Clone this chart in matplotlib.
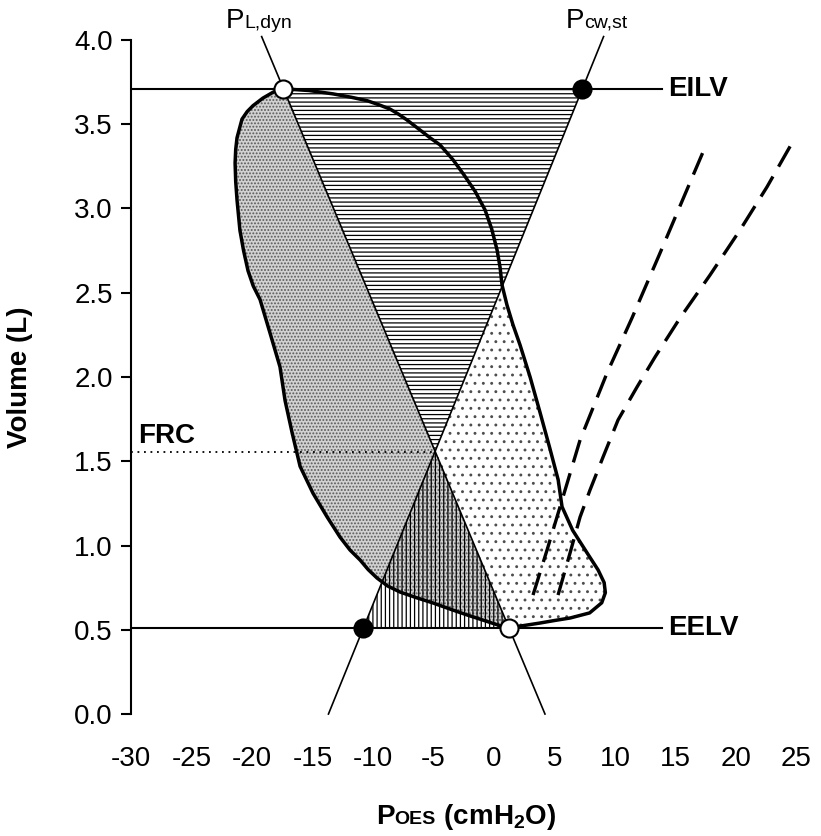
import numpy as np
import matplotlib
matplotlib.use("Agg")
import matplotlib.pyplot as plt
from matplotlib.patches import Polygon
from matplotlib.offsetbox import TextArea, HPacker, AnnotationBbox

plt.rcParams['font.family'] = ['Liberation Sans', 'DejaVu Sans']
plt.rcParams['axes.unicode_minus'] = False
plt.rcParams['mathtext.fontset'] = 'custom'
plt.rcParams['mathtext.rm'] = 'Liberation Sans'
plt.rcParams['mathtext.bf'] = 'Liberation Sans:bold'
plt.rcParams['hatch.linewidth'] = 0.9

# lung volumes (L)
eilv = 3.71
eelv = 0.51
frc = 1.555

# pressures at end-inspiration / end-expiration (cmH2O)
pl_dyn_top = -17.4
pcw_st_top = 7.3
pcw_st_bottom = -10.8
pl_dyn_bottom = 1.24

# pressure-volume loop: expiratory limb, then inspiratory limb
loop_p = [-17.4, -15.3, -13.3, -11.8, -10.5, -9.5, -8.6, -7.9, -7.19, -6.12, -5.3, -4.46,
          -3.4, -2.48, -1.55, -0.74, -0.2, 0.25, 0.5, 0.66, 1.07, 1.57, 2.15, 2.98,
          3.8, 4.6, 5.3, 5.62, 6.5, 7.7, 8.6, 9.1, 9.2, 8.9, 7.9, 6.3, 5.0, 3.8, 2.0,
          1.24, 0.33, -0.9, -2.23, -3.6, -5.04, -6.4, -7.77, -8.8, -9.67, -10.4, -11.07,
          -11.9, -12.73, -13.8, -14.96, -16.03, -16.69, -17.27, -17.69, -18.51, -19.34,
          -19.9, -20.33, -20.7, -21.0, -21.24, -21.35, -21.4, -21.35, -21.24, -20.83,
          -20.4, -19.92, -19.1, -18.26]
loop_v = [3.71, 3.70, 3.68, 3.66, 3.64, 3.615, 3.59, 3.56, 3.525, 3.466, 3.42, 3.377,
          3.29, 3.199, 3.10, 2.991, 2.88, 2.754, 2.65, 2.546, 2.427, 2.309, 2.19, 2.0,
          1.79, 1.58, 1.39, 1.23, 1.09, 0.955, 0.855, 0.78, 0.72, 0.66, 0.60, 0.57, 0.555, 0.54, 0.52,
          0.51, 0.528, 0.557, 0.588, 0.622, 0.659, 0.69, 0.724, 0.76, 0.807, 0.857, 0.914,
          0.973, 1.05, 1.17, 1.31, 1.47, 1.67, 1.86, 2.06, 2.26, 2.46,
          2.54, 2.63, 2.75, 2.87, 3.05, 3.16, 3.27, 3.35, 3.42, 3.53,
          3.575, 3.61, 3.655, 3.69]

# dashed relaxation curves
cw1_p = [3.22, 4.38, 5.45, 7.11, 9.34, 11.4, 13.65, 15.65, 17.52]
cw1_v = [0.706, 0.973, 1.228, 1.626, 2.024, 2.35, 2.724, 3.062, 3.377]
cw2_p = [5.29, 6.28, 7.11, 7.93, 9.01, 10.25, 11.82, 13.31, 15.37, 17.85, 20.33, 22.56, 24.63]
cw2_v = [0.706, 0.955, 1.169, 1.329, 1.525, 1.745, 1.941, 2.119, 2.35, 2.605, 2.872, 3.128, 3.389]

xticks = list(range(-30, 30, 5))
yticks = [0.0, 0.5, 1.0, 1.5, 2.0, 2.5, 3.0, 3.5, 4.0]


def line_a(v):
    return pl_dyn_top + (v - eilv) * (pl_dyn_bottom - pl_dyn_top) / (eelv - eilv)


def line_b(v):
    return pcw_st_top + (v - eilv) * (pcw_st_bottom - pcw_st_top) / (eelv - eilv)


# where the two lines cross
ka = (pl_dyn_bottom - pl_dyn_top) / (eelv - eilv)
kb = (pcw_st_bottom - pcw_st_top) / (eelv - eilv)
v_cross = eilv + (pcw_st_top - pl_dyn_top) / (ka - kb)
p_cross = line_a(v_cross)

fig = plt.figure(figsize=(8.21, 8.36), dpi=100)
ax = fig.add_axes([0.1596, 0.1459, 0.8106, 0.8063])
ax.set_xlim(-30, 25)
ax.set_ylim(0, 4)

# loop fill: sparse dots
loop_patch = Polygon(np.column_stack([loop_p, loop_v]), closed=True,
                     facecolor='white', edgecolor='0.3', hatch='..', lw=0, zorder=1)
ax.add_patch(loop_patch)

# inside loop, left of line A: dense grey dots
left = Polygon([(-31, 4.3), (line_a(4.3), 4.3), (line_a(-0.3), -0.3), (-31, -0.3)],
               closed=True, facecolor='#d2d2d2', edgecolor='0.35', hatch='.....',
               lw=0, zorder=2)
ax.add_patch(left)
left.set_clip_path(loop_patch)

# upper triangle (horizontal lines) and lower triangle (vertical lines)
ax.add_patch(Polygon([(pl_dyn_top, eilv), (pcw_st_top, eilv), (p_cross, v_cross)],
                     closed=True, facecolor='white', edgecolor='black', hatch='----',
                     lw=0, zorder=3))
ax.add_patch(Polygon([(pcw_st_bottom, eelv), (pl_dyn_bottom, eelv), (p_cross, v_cross)],
                     closed=True, facecolor='none', edgecolor='black', hatch='||||',
                     lw=0, zorder=3))

# the two pressure lines, running up into the labels
v_top, v_bot = 4.02, 0.0
ax.plot([line_a(v_top), line_a(v_bot)], [v_top, v_bot], color='black', lw=1.2,
        zorder=4, clip_on=False)
ax.plot([line_b(v_top), line_b(v_bot)], [v_top, v_bot], color='black', lw=1.2,
        zorder=4, clip_on=False)

# EILV / EELV / FRC
ax.plot([-30, 13.9], [eilv, eilv], color='black', lw=1.5, zorder=4)
ax.plot([-30, 13.9], [eelv, eelv], color='black', lw=1.5, zorder=4)
ax.plot([-30, p_cross], [frc, frc], color='black', lw=1.3, ls=(0, (1, 2.6)), zorder=4)
ax.text(14.4, eilv, 'EILV', fontsize=20, fontweight='bold', ha='left', va='center')
ax.text(14.4, eelv, 'EELV', fontsize=20, fontweight='bold', ha='left', va='center')
ax.text(-29.4, 1.61, 'FRC', fontsize=20, fontweight='bold', ha='left', va='baseline')

# loop outline
ax.plot(loop_p + loop_p[:1], loop_v + loop_v[:1], color='black', lw=2.5,
        solid_joinstyle='round', zorder=5)

# dashed curves
for cp, cv in [(cw1_p, cw1_v), (cw2_p, cw2_v)]:
    ax.plot(cp, cv, color='black', lw=2.4, ls=(0, (7, 3.4)), zorder=5)

# markers
ax.plot([pl_dyn_top, pl_dyn_bottom], [eilv, eelv], 'o', ms=13, mfc='white',
        mec='black', mew=1.5, zorder=6, clip_on=False)
ax.plot([pcw_st_top, pcw_st_bottom], [eilv, eelv], 'o', ms=13, mfc='black',
        mec='black', mew=1.5, zorder=6, clip_on=False)


def mixed_label(parts, xy, coords):
    kids = [TextArea(s, textprops=dict(fontsize=fs, fontweight=fw)) for s, fs, fw in parts]
    box = HPacker(children=kids, align='baseline', pad=0, sep=0)
    ab = AnnotationBbox(box, xy, xycoords=coords, frameon=False,
                        box_alignment=(0.5, 0.5), annotation_clip=False)
    ax.add_artist(ab)


mixed_label([('P', 20, 'normal'), ('L,dyn', 14, 'normal')], (-19.4, 4.113), 'data')
mixed_label([('P', 20, 'normal'), ('cw,st', 14, 'normal')], (8.5, 4.113), 'data')
mixed_label([('P', 20, 'bold'), ('OES', 14, 'bold'), (r' (cmH$_\mathbf{2}$O)', 20, 'bold')],
            (0.5676, 0.0227), 'figure fraction')

fig.text(0.0244, 0.549, 'Volume (L)', fontsize=20, fontweight='bold',
         rotation=90, ha='center', va='center')

# axes styling
for side in ['top', 'right', 'bottom']:
    ax.spines[side].set_visible(False)
ax.spines['left'].set_linewidth(1.5)
ax.set_xticks(xticks)
ax.set_xticklabels([str(t) for t in xticks])
ax.set_yticks(yticks)
ax.set_yticklabels(['%.1f' % t for t in yticks])
ax.tick_params(axis='x', length=0, pad=23, labelsize=20)
ax.tick_params(axis='y', direction='out', length=7, width=1.5, pad=6, labelsize=20)

fig.savefig('out.png', dpi=100)
